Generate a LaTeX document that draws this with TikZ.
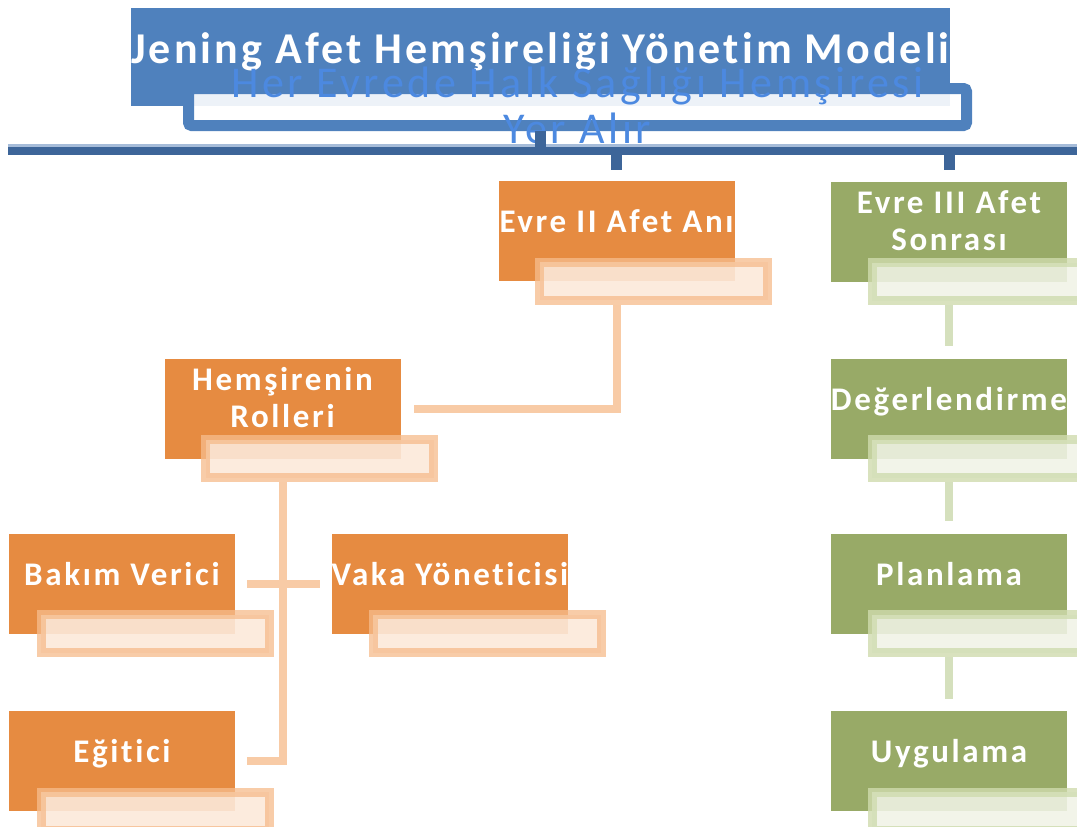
\documentclass[tikz,border=0pt]{standalone}
\usepackage{fontspec}
\setmainfont{Carlito}
\newfontfamily\kutufont[LetterSpace=8,Ligatures=NoCommon]{Carlito}
\newfontfamily\baslikfont[LetterSpace=7,Ligatures=NoCommon]{Carlito}
\newfontfamily\halkfont[LetterSpace=8,Ligatures=NoCommon]{Carlito}

\definecolor{mavi}{HTML}{4F81BD}
\definecolor{koyumavi}{HTML}{3D6599}
\definecolor{acikmavi}{HTML}{A6BCD9}
\definecolor{halkmavi}{HTML}{4C89E0}
\definecolor{turuncu}{HTML}{E68B41}
\definecolor{turcizgi}{HTML}{F6BC8C}
\definecolor{turdolgu}{HTML}{FCE9D9}
\definecolor{turbag}{HTML}{F8CBA6}
\definecolor{yesil}{HTML}{98AA67}
\definecolor{yescizgi}{HTML}{CFDBAE}
\definecolor{yesdolgu}{HTML}{F0F3E6}
\definecolor{yesbag}{HTML}{D5E0BD}

\tikzset{
  kutu/.style={minimum width=236pt, minimum height=100pt, inner sep=0pt,
    text=white, align=center, text height=21pt, text depth=18pt,
    font=\kutufont\bfseries\fontsize{33}{37}\selectfont},
  iki/.style={text height=58pt, text depth=21pt},
  tkutu/.style={kutu, fill=turuncu},
  ykutu/.style={kutu, fill=yesil},
  alt/.style={minimum width=228pt, minimum height=38pt, inner sep=0pt, line width=9pt},
  talt/.style={alt, draw=turcizgi, draw opacity=.76, fill=turdolgu, fill opacity=.9},
  yalt/.style={alt, draw=yescizgi, draw opacity=.8, fill=yesdolgu, fill opacity=.88},
  tbag/.style={line width=8pt, draw=turbag},
  ybag/.style={line width=8pt, draw=yesbag},
  mbag/.style={line width=11pt, draw=koyumavi},
}

\begin{document}
\begin{tikzpicture}[x=1pt,y=-1pt]
\useasboundingbox (0,0) rectangle (1077,827);

% ust kisim
\node[minimum width=819pt, minimum height=98pt, inner sep=0pt, fill=mavi, text=white,
  text height=30pt, text depth=18pt, font=\baslikfont\bfseries\fontsize{44}{46}\selectfont]
  (baslik) at (540.5,57) {Jening Afet Hemşireliği Yönetim Modeli};
\node[minimum width=778pt, minimum height=37pt, line width=11pt, rounded corners=3pt,
  draw=mavi, fill=white, fill opacity=.9] (halk) at (577.5,107) {};
\node[anchor=base, align=center, inner sep=0pt, text=halkmavi,
  font=\halkfont\fontsize{44}{46}\selectfont]
  (halkyazi) at (577.5,143) {Her Evrede Halk Sağlığı Hemşiresi\\Yer Alır};

\coordinate (hatsol) at (8,151);
\coordinate (hatsag) at (1077,151);
\draw[line width=3pt, acikmavi] ([yshift=5.5pt]hatsol) -- ([yshift=5.5pt]hatsag);
\draw[line width=8pt, koyumavi] (hatsol) -- (hatsag);

% evreler
\node[tkutu] (evreII) at (616.5,231) {Evre II Afet Anı};
\node[tkutu, iki] (rolleri) at (282.5,408.5) {Hemşirenin\\Rolleri};
\node[tkutu, minimum width=226pt] (bakim) at (122,583.5) {Bakım Verici};
\node[tkutu, minimum width=234pt] (vaka) at (450,583.5) {Vaka Yöneticisi};
\node[tkutu, minimum width=226pt] (egitici) at (122,761) {Eğitici};

\node[ykutu, iki] (evreIII) at (949,231.5) {Evre III Afet\\Sonrası};
\node[ykutu] (deger) at (949,408.5) {Değerlendirme};
\node[ykutu] (plan) at (949,583.5) {Planlama};
\node[ykutu] (uygula) at (949,761) {Uygulama};

\draw[mbag] (baslik.south |- halk.south) -- (baslik.south |- hatsol);
\draw[mbag] (evreII.north |- hatsol) -- ([yshift=11pt]evreII.north);
\draw[mbag] (evreIII.north |- hatsol) -- ([yshift=11pt]evreIII.north);

% alt kutular
\node[talt] (evreIIalt) at ([xshift=37pt]evreII.south) {};
\node[talt] (rollerialt) at ([xshift=37pt]rolleri.south) {};
\node[talt] (bakimalt) at ([xshift=33pt]bakim.south) {};
\node[talt] (vakaalt) at ([xshift=37pt]vaka.south) {};
\node[talt] (egiticialt) at ([xshift=33pt]egitici.south) {};
\node[yalt] (evreIIIalt) at ([xshift=37pt]evreIII.south) {};
\node[yalt] (degeralt) at ([xshift=37pt]deger.south) {};
\node[yalt] (planalt) at ([xshift=37pt]plan.south) {};
\node[yalt] (uygulaalt) at ([xshift=37pt]uygula.south) {};

% baglantilar
\draw[tbag] (evreIIalt.south -| evreII.south) |- ([xshift=13pt]rolleri.east);
\draw[tbag] (rollerialt.south -| rolleri.south) |- ([xshift=12pt]egitici.east);
\draw[tbag] ([xshift=12pt]bakim.east) -- ([xshift=-12pt]vaka.west);
\draw[ybag] (evreIIIalt.south -| evreIII.south) -- ([yshift=12pt]deger.north);
\draw[ybag] (degeralt.south -| deger.south) -- ([yshift=12pt]plan.north);
\draw[ybag] (planalt.south -| plan.south) -- ([yshift=12pt]uygula.north);
\end{tikzpicture}
\end{document}
